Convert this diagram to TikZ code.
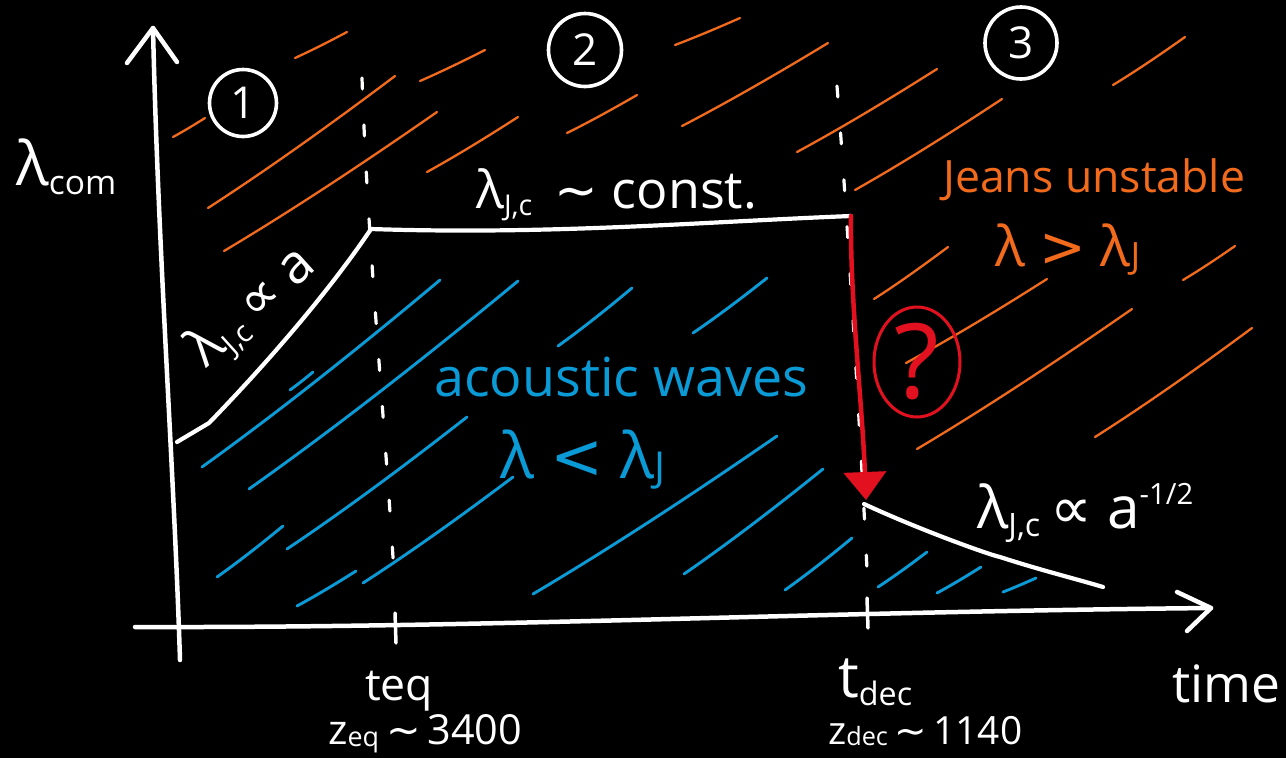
\documentclass[tikz,border=0pt]{standalone}
\usepackage{fontspec}
\setmainfont{Open Sans}
\newfontfamily\symf{DejaVu Sans}
\usetikzlibrary{arrows.meta,shapes.geometric}
\definecolor{hatchor}{HTML}{F26A1B}
\definecolor{hatchbl}{HTML}{0A9BD7}
\definecolor{redarr}{HTML}{E3111F}
\newcommand{\fitw}[2]{\resizebox{#1}{!}{#2}}
\newcommand{\lowsub}[1]{\raisebox{-3pt}{\fontsize{11}{11}\selectfont #1}}
\newcommand{\smallsub}[1]{\raisebox{-1pt}{\fontsize{13}{13}\selectfont #1}}
\newcommand{\highsup}[1]{\raisebox{8pt}{\fontsize{10}{10}\selectfont #1}}
\tikzset{
  axisline/.style={white, line width=4.5pt, line cap=round, line join=round},
  curveline/.style={white, line width=4.2pt, line cap=round, line join=round},
  dashline/.style={white, line width=3.2pt, line cap=round, dash pattern=on 11pt off 36pt},
  orline/.style={hatchor, line width=2.3pt, line cap=round},
  blline/.style={hatchbl, line width=2.9pt, line cap=round},
  lbl/.style={inner sep=0pt, anchor=base west, text=white, font=\fontsize{20}{20}\selectfont},
  numcirc/.style={circle, draw=white, line width=3.6pt, text=white, inner sep=0pt, font=\fontsize{44}{44}\selectfont},
}
\begin{document}
\begin{tikzpicture}[x=1pt,y=-1pt]
\fill[black] (0,0) rectangle (1286,758);
\useasboundingbox (0,0) rectangle (1286,758);

% orange hatching
\foreach \a/\b/\c/\d in {173/137/205/118, 295/58/347/32, 208/208/395/76, 224/251/437/112,
  420/81/485/50, 427/172/518/117, 567/133/637/95, 675/45/740/18, 682/126/828/43,
  797/152/937/69, 855/190/1002/99, 1113/85/1185/37, 874/299/948/247, 906/363/1047/279,
  917/449/1132/309, 1095/437/1252/328, 1183/280/1235/246}
  \draw[orline] (\a,\b) .. controls ({\a+0.35*(\c-\a)},{\b+0.32*(\d-\b)}) and ({\a+0.7*(\c-\a)},{\b+0.68*(\d-\b)}) .. (\c,\d);

% blue hatching
\foreach \a/\b/\c/\d in {202/467/440/280, 249/489/518/281, 558/346/632/288, 693/333/767/278,
  287/549/467/417, 217/577/283/526, 297/606/356/571, 363/583/513/477, 533/594/777/436,
  684/574/823/469, 785/590/852/538, 878/587/927/552, 937/593/981/567, 1003/592/1036/578,
  290/390/313/372}
  \draw[blline] (\a,\b) .. controls ({\a+0.35*(\c-\a)},{\b+0.32*(\d-\b)}) and ({\a+0.7*(\c-\a)},{\b+0.68*(\d-\b)}) .. (\c,\d);

% dashed verticals
\coordinate (d1a) at (362,78);
\coordinate (d1b) at (395,590);
\coordinate (d2a) at (837,86);
\coordinate (d2b) at (868,590);
\draw[dashline] (d1a) .. controls (368,250) and (385,420) .. (d1b);
\draw[dashline] (d2a) .. controls (846,200) and (860,420) .. (d2b);

% axes
\coordinate (yb) at (180,660);
\coordinate (yt) at (153,28);
\draw[axisline] (yb) .. controls (174,470) and (158,250) .. (yt);
\coordinate (yal) at (127,63);
\coordinate (yar) at (177,62);
\draw[axisline] (yal) -- (yt) -- (yar);
\coordinate (xl) at (135,627);
\coordinate (xr) at (1211,608);
\draw[axisline] (xl) .. controls (500,628) and (800,612) .. (xr);
\coordinate (xal) at (1177,592);
\coordinate (xar) at (1187,631);
\draw[axisline] (xal) -- (xr) -- (xar);
% ticks
\coordinate (t1a) at (395,613); \coordinate (t1b) at (396,643);
\coordinate (t2a) at (867,598); \coordinate (t2b) at (868,628);
\draw[axisline, line width=3.5pt] (t1a) -- (t1b);
\draw[axisline, line width=3.5pt] (t2a) -- (t2b);

% white curves
\coordinate (c0) at (177,442);
\coordinate (c1) at (209,423);
\coordinate (ceq) at (371,229);
\coordinate (cdec) at (851,216);
\coordinate (cdrop) at (864,504);
\coordinate (cend) at (1103,587);
\draw[curveline] (c0) -- (c1) .. controls (270,360) and (330,290) .. (ceq)
  .. controls (550,235) and (700,222) .. (cdec);
\draw[curveline] (cdrop) .. controls (920,530) and (990,555) .. (1000,557) .. controls (1040,570) and (1080,580) .. (cend);

% red arrow
\coordinate (rtip) at (866,500);
\draw[redarr, line width=4.5pt, line cap=round, -{Triangle[width=42pt,length=28pt]}] (cdec) .. controls (850,300) and (862,400) .. (rtip);

% question mark
\node[draw=redarr, ellipse, line width=3pt, minimum width=86pt, minimum height=110pt, inner sep=0pt, text=redarr, font=\fontsize{104}{104}\selectfont] (qm) at (917,362) {?};

% circled numbers
\node[numcirc, minimum size=67pt] (n1) at (243,103) {1};
\node[numcirc, minimum size=73pt] (n2) at (585,50) {2};
\node[numcirc, minimum size=72pt] (n3) at (1021,43) {3};

% labels
\node[lbl] (lcom) at (16,185) {\fitw{100pt}{λ\lowsub{com}}};
\node[lbl] (lconst) at (476,208) {\fitw{281pt}{λ\lowsub{J,c}\, {\symf ∼} const.}};
\node[lbl, text=hatchor] (jeans) at (943,192) {\fitw{302pt}{Jeans unstable}};
\node[lbl, text=hatchor] (lgt) at (995,266) {\fitw{145pt}{λ {\symf >} λ\smallsub{J}}};
\node[lbl, text=hatchbl] (acou) at (434,396) {\fitw{374pt}{acoustic waves}};
\node[lbl, text=hatchbl] (llt) at (500,478) {\fitw{165pt}{λ {\symf <} λ\smallsub{J}}};
\node[lbl] (ldec) at (977,528) {\fitw{216pt}{λ\lowsub{J,c}\,{\symf ∝} a\highsup{-1/2}}};
\node[lbl, anchor=center, rotate=42] (lrise) at (253,308) {\fitw{150pt}{λ\lowsub{J,c}\,{\symf ∝} a}};
\node[lbl] (teq) at (365,700) {\fitw{68pt}{teq}};
\node[lbl] (zeq) at (328,744) {\fitw{194pt}{z\smallsub{eq}\,{\symf ∼}\,3400}};
\node[lbl] (tdec) at (838,697) {\fitw{74pt}{t\lowsub{dec}}};
\node[lbl] (zdec) at (828,744) {\fitw{194pt}{z\smallsub{dec}\,{\symf ∼}\,1140}};
\node[lbl] (time) at (1172,702) {\fitw{108pt}{time}};
\end{tikzpicture}
\end{document}
